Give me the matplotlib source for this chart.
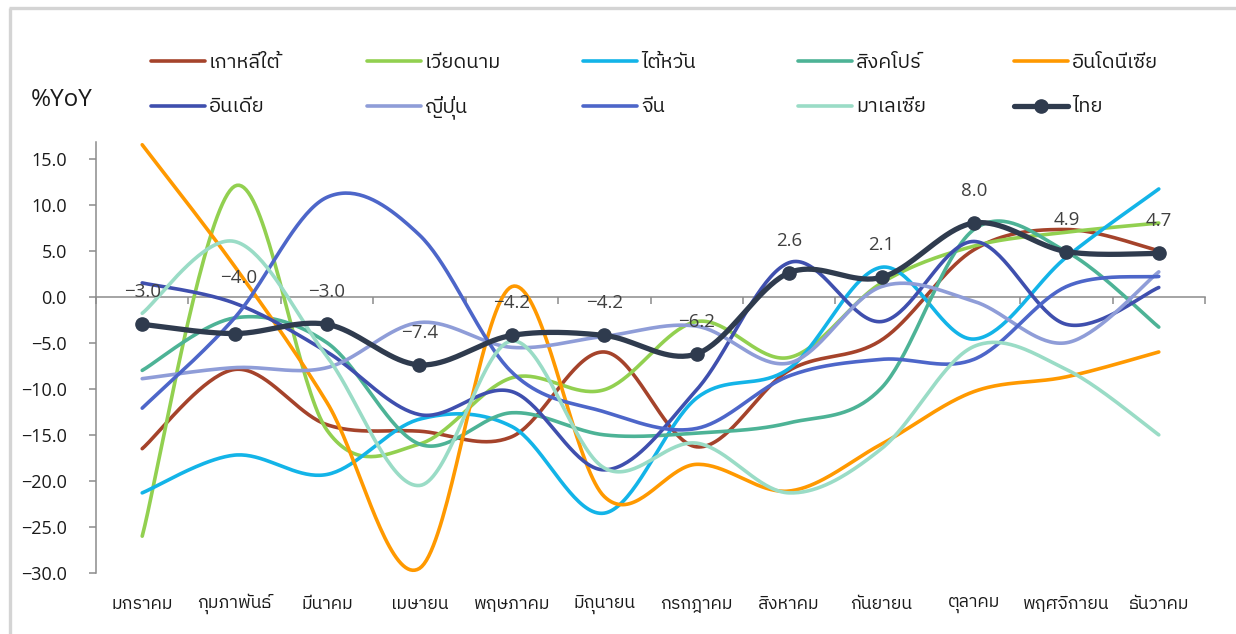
import numpy as np
import matplotlib
matplotlib.use("Agg")
import matplotlib.pyplot as plt
from matplotlib import font_manager as fm
from matplotlib.ft2font import FT2Font
from matplotlib.lines import Line2D
import matplotlib.transforms as mtransforms

# ---------------------------------------------------------------- data
months = ["มกราคม", "กุมภาพันธ์", "มีนาคม", "เมษายน", "พฤษภาคม", "มิถุนายน",
          "กรกฎาคม", "สิงหาคม", "กันยายน", "ตุลาคม", "พฤศจิกายน", "ธันวาคม"]

korea     = [-16.5, -7.9, -13.9, -14.6, -15.2, -6.0, -16.3, -8.0, -4.7, 5.1, 7.3, 5.0]
vietnam   = [-26.0, 12.0, -14.5, -16.0, -8.8, -10.1, -2.7, -6.6, 1.5, 5.5, 7.0, 8.0]
taiwan    = [-21.3, -17.2, -19.3, -13.3, -14.1, -23.5, -11.0, -7.8, 3.2, -4.6, 4.3, 11.7]
singapore = [-8.0, -2.3, -5.0, -16.0, -12.6, -15.0, -14.8, -13.7, -9.9, 7.3, 4.9, -3.3]
indonesia = [16.5, 3.3, -11.5, -29.5, 1.1, -21.7, -18.2, -21.1, -16.0, -10.3, -8.7, -6.0]
india     = [1.5, -0.7, -6.0, -12.8, -10.3, -18.8, -10.1, 3.7, -2.7, 6.0, -3.0, 1.0]
japan     = [-8.9, -7.7, -7.7, -2.8, -5.5, -4.3, -3.2, -7.2, 1.1, -0.5, -5.0, 2.7]
china     = [-12.1, -2.3, 10.8, 6.7, -8.2, -12.5, -14.3, -8.6, -6.8, -6.8, 1.1, 2.2]
malaysia  = [-1.8, 6.0, -6.5, -20.5, -4.8, -18.6, -15.9, -21.3, -16.5, -5.4, -7.9, -15.0]
thailand  = [-3.0, -4.0, -3.0, -7.4, -4.2, -4.2, -6.2, 2.6, 2.1, 8.0, 4.9, 4.7]

series_names = ["เกาหลีใต้", "เวียดนาม", "ไต้หวัน", "สิงคโปร์", "อินโดนีเซีย",
                "อินเดีย", "ญี่ปุ่น", "จีน", "มาเลเซีย", "ไทย"]
series_values = [korea, vietnam, taiwan, singapore, indonesia,
                 india, japan, china, malaysia, thailand]
series_colors = ["#A5432B", "#92D050", "#13B4E8", "#4DB396", "#FF9900",
                 "#3F4FAE", "#8F9DD8", "#4D66C9", "#9ADCC6", "#2F3B4E"]

y_ticks = [15.0, 10.0, 5.0, 0.0, -5.0, -10.0, -15.0, -20.0, -25.0, -30.0]


# ---------------------------------------------------------------- fonts
def find_thai_family():
    found = []
    for entry in fm.fontManager.ttflist:
        try:
            cmap = FT2Font(entry.fname).get_charmap()
        except Exception:
            continue
        if 0x0E01 in cmap and 0x0E44 in cmap:
            found.append(entry.name)
    if not found:
        return None
    found = sorted(set(found), key=lambda n: (0 if "Thai" in n else 1, n))
    return found[0]


thai_font = find_thai_family()
text_family = [thai_font, "DejaVu Sans"] if thai_font else ["DejaVu Sans"]
num_family = ["Open Sans", "DejaVu Sans"]
plt.rcParams["font.family"] = text_family


# ---------------------------------------------------------------- helpers
def smooth(values, samples=40):
    """Cubic Bezier smoothing through every point (Catmull-Rom tangents)."""
    y = np.asarray(values, dtype=float)
    x = np.arange(len(y), dtype=float)
    xs, ys = [], []
    n = len(y)
    for i in range(n - 1):
        y0 = y[i - 1] if i > 0 else y[i]
        x0 = x[i - 1] if i > 0 else x[i]
        y3 = y[i + 2] if i + 2 < n else y[i + 1]
        x3 = x[i + 2] if i + 2 < n else x[i + 1]
        p1 = np.array([x[i], y[i]])
        p2 = np.array([x[i + 1], y[i + 1]])
        c1 = p1 + (p2 - np.array([x0, y0])) / 6.0
        c2 = p2 - (np.array([x3, y3]) - p1) / 6.0
        t = np.linspace(0, 1, samples, endpoint=(i == n - 2))[:, None]
        pts = ((1 - t) ** 3) * p1 + 3 * ((1 - t) ** 2) * t * c1 \
            + 3 * (1 - t) * (t ** 2) * c2 + (t ** 3) * p2
        xs.append(pts[:, 0])
        ys.append(pts[:, 1])
    return np.concatenate(xs), np.concatenate(ys)


# ---------------------------------------------------------------- figure
W, H = 1236, 634
fig = plt.figure(figsize=(W / 100, H / 100), dpi=100)
ax = fig.add_axes([96 / W, 1 - 573 / H, (1205 - 96) / W, (573 - 142) / H])


def fx(px):
    return px / W


def fy(py):
    return 1 - py / H


# light frame on the top and left edges
frame_color = "#D4D4D4"
fig.add_artist(Line2D([fx(9), 1], [fy(7.5), fy(7.5)], color=frame_color,
                      lw=2.4, transform=fig.transFigure, solid_capstyle="butt"))
fig.add_artist(Line2D([fx(9.5), fx(9.5)], [0, fy(7.5)], color=frame_color,
                      lw=2.4, transform=fig.transFigure, solid_capstyle="butt"))

THAI_LW, OTHER_LW, MARKER = 3.8, 2.6, 9.5
x_idx = np.arange(len(months))
for name, vals, col in zip(series_names, series_values, series_colors):
    sx, sy = smooth(vals)
    if name == "ไทย":
        ax.plot(sx, sy, color=col, lw=THAI_LW, zorder=5, solid_capstyle="round")
        ax.plot(x_idx, vals, ls="none", marker="o", ms=MARKER, color=col, zorder=6)
    else:
        ax.plot(sx, sy, color=col, lw=OTHER_LW, zorder=3, solid_capstyle="round")

# value labels on the Thailand series
label_lift = {1: 40}
for i, v in enumerate(thailand):
    dy = label_lift.get(i, 23)
    dx = 3 if i == 1 else 0
    ax.annotate(f"{v:.1f}".replace("-", "\u2212"), (i, v), xytext=(dx, dy),
                textcoords="offset points", ha="center", va="center",
                fontsize=13.5, color="#404040", family=num_family, zorder=7)

# axes styling
ax.set_xlim(-0.5, len(months) - 0.5)
ax.set_ylim(-30, 16.8)
for side in ("top", "right"):
    ax.spines[side].set_visible(False)
ax.spines["left"].set_color("#8C8C8C")
ax.spines["left"].set_linewidth(1.1)
ax.spines["bottom"].set_position(("data", 0))
ax.spines["bottom"].set_color("#8C8C8C")
ax.spines["bottom"].set_linewidth(1.1)

ax.set_yticks(y_ticks)
ax.set_yticklabels([f"{t:.1f}".replace("-", "\u2212") for t in y_ticks],
                   family=num_family, fontsize=13, color="#1A1A1A")
ax.tick_params(axis="y", direction="out", length=5, width=1.1, color="#8C8C8C", pad=16)

ax.set_xticks(np.arange(-0.5, len(months), 1.0))
ax.set_xticklabels([])
ax.tick_params(axis="x", direction="out", length=5, width=1.1, color="#8C8C8C")

# month names along the bottom
blend = mtransforms.blended_transform_factory(ax.transData, ax.transAxes)
for i, m in enumerate(months):
    ax.text(i, (573 - 604) / (573 - 142), m, transform=blend, ha="center",
            va="center", fontsize=12.8, color="#1A1A1A")

fig.text(fx(31), fy(100), "%YoY", fontsize=17.5, color="#1A1A1A",
         family=num_family, va="center", ha="left")

# legend: two rows of five entries on a fixed grid
col_x = [151, 367, 583, 798, 1014]
row_y = [61, 106]
for k, (name, col) in enumerate(zip(series_names, series_colors)):
    x0 = col_x[k % 5]
    y0 = row_y[k // 5]
    if name == "ไทย":
        fig.add_artist(Line2D([fx(x0), fx(x0 + 54)], [fy(y0), fy(y0)], color=col,
                              lw=THAI_LW, solid_capstyle="round",
                              transform=fig.transFigure))
        fig.add_artist(Line2D([fx(x0 + 27)], [fy(y0)], color=col, marker="o",
                              ms=MARKER, ls="none", transform=fig.transFigure))
    else:
        fig.add_artist(Line2D([fx(x0), fx(x0 + 54)], [fy(y0), fy(y0)], color=col,
                              lw=OTHER_LW, solid_capstyle="round",
                              transform=fig.transFigure))
    fig.text(fx(x0 + 58), fy(y0 + 6.5), name, fontsize=14.5, color="#1A1A1A",
             ha="left", va="baseline")

fig.savefig("out.png", dpi=100)
